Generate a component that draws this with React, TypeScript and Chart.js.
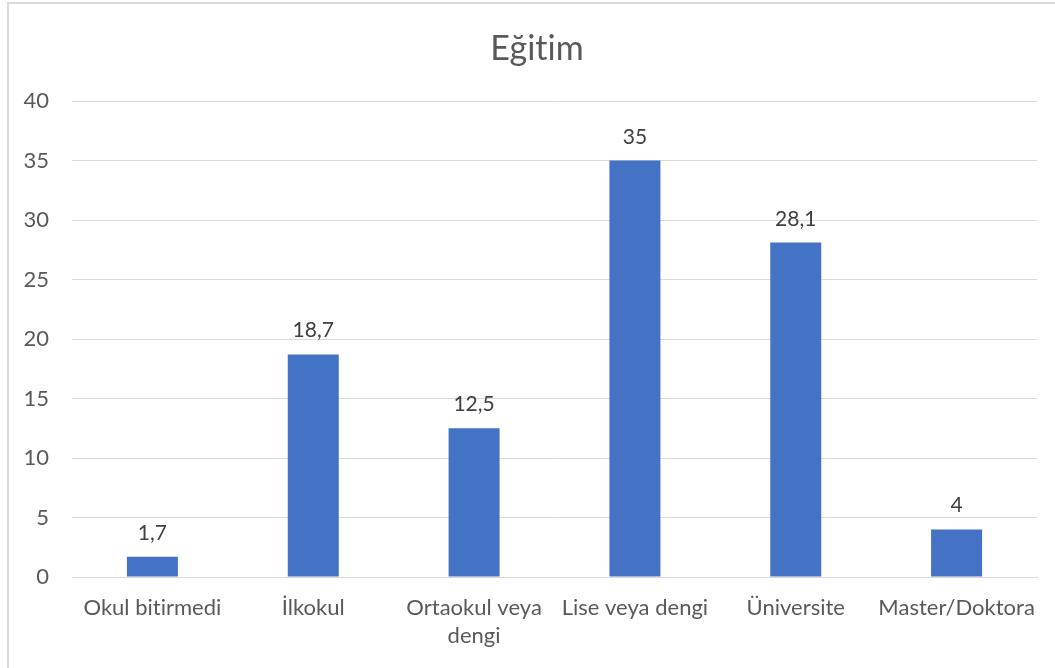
import React, { useEffect, useRef } from "react";
import { Chart, registerables } from "chart.js";

Chart.register(...registerables);

const categories: (string | string[])[] = [
  "Okul bitirmedi",
  "İlkokul",
  ["Ortaokul veya", "dengi"],
  "Lise veya dengi",
  "Üniversite",
  "Master/Doktora",
];
const values: number[] = [1.7, 18.7, 12.5, 35, 28.1, 4];
const yTicks: number[] = [0, 5, 10, 15, 20, 25, 30, 35, 40];
const titleText = "Eğitim";

const FONT = "Lato, 'Open Sans', sans-serif";

const noLigaturePlugin = {
  id: "noLigatures",
  beforeDraw(chart: any) {
    try {
      chart.ctx.letterSpacing = "0.01px";
    } catch (e) {
      /* ignore */
    }
  },
};

const dataLabelPlugin = {
  id: "dataLabels",
  afterDatasetsDraw(chart: any) {
    const ctx = chart.ctx;
    const meta = chart.getDatasetMeta(0);
    ctx.save();
    ctx.font = `21px ${FONT}`;
    ctx.fillStyle = "#404040";
    ctx.textAlign = "center";
    ctx.textBaseline = "alphabetic";
    meta.data.forEach((bar: any, i: number) => {
      const label = String(values[i]).replace(".", ",");
      ctx.fillText(label, bar.x, bar.y - 17);
    });
    ctx.restore();
  },
};

const titlePlugin = {
  id: "customTitle",
  afterDraw(chart: any) {
    const ctx = chart.ctx;
    ctx.save();
    try {
      ctx.letterSpacing = "0.01px";
    } catch (e) {
      /* ignore */
    }
    ctx.font = `34px ${FONT}`;
    ctx.fillStyle = "#595959";
    ctx.textAlign = "center";
    ctx.textBaseline = "middle";
    ctx.fillText(titleText, 537, 49);
    ctx.restore();
  },
};

export default function App() {
  const ref = useRef<HTMLCanvasElement | null>(null);

  useEffect(() => {
    if (!ref.current) return;
    const chart = new Chart(ref.current, {
      type: "bar",
      data: {
        labels: categories,
        datasets: [
          {
            data: values,
            backgroundColor: "#4472C4",
            borderWidth: 0,
            barPercentage: 0.317,
            categoryPercentage: 1,
          },
        ],
      },
      options: {
        animation: false,
        responsive: false,
        maintainAspectRatio: false,
        layout: { padding: { top: 101, right: 18, bottom: 0, left: 0 } },
        plugins: {
          legend: { display: false },
          tooltip: { enabled: false },
          title: { display: false },
        },
        scales: {
          x: {
            grid: { display: false, drawTicks: false },
            border: { display: true, color: "#d9d9d9", width: 1 },
            ticks: {
              color: "#595959",
              font: { family: FONT, size: 22, lineHeight: 1.27 },
              padding: 17,
              maxRotation: 0,
              autoSkip: false,
            },
            afterFit(scale: any) {
              scale.height = 91;
            },
          },
          y: {
            min: 0,
            max: 40,
            afterBuildTicks(scale: any) {
              scale.ticks = yTicks.map((v) => ({ value: v }));
            },
            grid: { color: "#d9d9d9", lineWidth: 1, drawTicks: false },
            border: { display: false },
            ticks: {
              color: "#595959",
              font: { family: FONT, size: 22 },
              padding: 23,
            },
            afterFit(scale: any) {
              scale.width = 72;
            },
          },
        },
      },
      plugins: [noLigaturePlugin, dataLabelPlugin, titlePlugin],
    });
    return () => chart.destroy();
  }, []);

  return (
    <div
      style={{
        position: "fixed",
        left: 0,
        top: 0,
        width: 1055,
        height: 668,
        background: "#ffffff",
        overflow: "hidden",
      }}
    >
      <canvas
        ref={ref}
        width={1055}
        height={668}
        style={{ position: "absolute", left: 0, top: 0, width: 1055, height: 668 }}
      />
      <div
        style={{
          position: "absolute",
          left: 7,
          top: 2,
          width: 2000,
          height: 2000,
          borderLeft: "2px solid #d9d9d9",
          borderTop: "2px solid #d9d9d9",
          pointerEvents: "none",
        }}
      />
    </div>
  );
}
